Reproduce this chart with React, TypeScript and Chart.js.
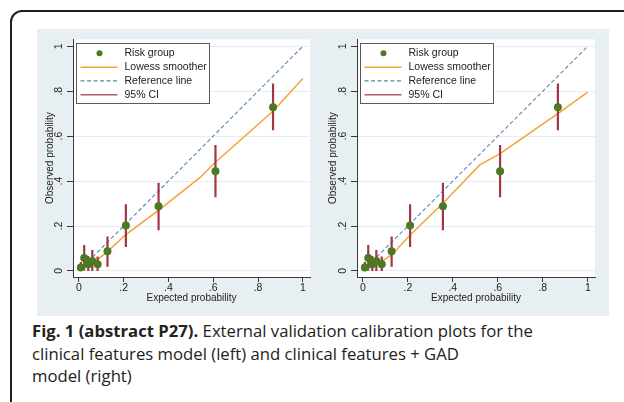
import React, { useEffect, useRef } from "react";
import { Chart, registerables } from "chart.js";

Chart.register(...registerables);

// ---- data ----
const groupExpected = [0.009, 0.024, 0.042, 0.06, 0.084, 0.128, 0.21, 0.356, 0.61, 0.867];
const groupObserved = [0.015, 0.058, 0.03, 0.044, 0.03, 0.088, 0.202, 0.288, 0.444, 0.729];
const ciLower = [0.0, 0.002, 0.0, 0.0, 0.0, 0.019, 0.107, 0.181, 0.328, 0.626];
const ciUpper = [0.04, 0.115, 0.067, 0.093, 0.064, 0.153, 0.297, 0.393, 0.56, 0.834];

const leftLowessX = [0, 0.02, 0.04, 0.06, 0.085, 0.13, 0.21, 0.36, 0.54, 0.61, 0.87, 1.0];
const leftLowessY = [0.015, 0.024, 0.032, 0.04, 0.052, 0.088, 0.162, 0.273, 0.415, 0.484, 0.714, 0.856];

const rightLowessX = [0, 0.03, 0.06, 0.09, 0.13, 0.21, 0.355, 0.52, 0.61, 0.87, 1.0];
const rightLowessY = [0.007, 0.016, 0.033, 0.046, 0.073, 0.16, 0.3, 0.472, 0.522, 0.702, 0.796];

const referenceX = [0, 1];
const referenceY = [0, 1];

const tickValues = [0, 0.2, 0.4, 0.6, 0.8, 1];
const tickLabels = ["0", ".2", ".4", ".6", ".8", "1"];

const legendLabels = ["Risk group", "Lowess smoother", "Reference line", "95% CI"];

const xTitle = "Expected probability";
const yTitle = "Observed probability";

// ---- styles ----
const COL_POINT = "#4a7a22";
const COL_CI = "#a23546";
const COL_LOWESS = "#f6a236";
const COL_REF = "#5c86b0";
const COL_AXIS = "#3a3a3a";
const COL_GRID = "#e7eef2";
const COL_PANEL = "#e8eff2";
const FONT = "'Liberation Sans', Arial, sans-serif";

const bgPlugin = {
  id: "plotbg",
  beforeDraw(chart: any) {
    const { ctx, chartArea: a } = chart;
    ctx.save();
    ctx.fillStyle = "#ffffff";
    ctx.fillRect(a.left, a.top, a.right - a.left, a.bottom - a.top);
    ctx.restore();
  },
};

const legendPlugin = {
  id: "stataLegend",
  afterDraw(chart: any) {
    const { ctx, chartArea: a } = chart;
    const bx = Math.round(a.left + 3) + 0.5;
    const by = Math.round(a.top + 4) + 0.5;
    const bw = 133;
    const bh = 60;
    ctx.save();
    ctx.fillStyle = "#ffffff";
    ctx.fillRect(bx, by, bw, bh);
    ctx.strokeStyle = "#5a5a5a";
    ctx.lineWidth = 1;
    ctx.strokeRect(bx, by, bw, bh);
    const rows = [9.7, 23.7, 37.3, 51.3];
    const x1 = bx + 4;
    const x2 = bx + 41;
    // risk group marker
    ctx.fillStyle = COL_POINT;
    ctx.beginPath();
    ctx.arc(bx + 23, by + rows[0], 3, 0, Math.PI * 2);
    ctx.fill();
    // lowess
    ctx.strokeStyle = COL_LOWESS;
    ctx.lineWidth = 1.5;
    ctx.beginPath();
    ctx.moveTo(x1, by + rows[1]);
    ctx.lineTo(x2, by + rows[1]);
    ctx.stroke();
    // reference
    ctx.strokeStyle = COL_REF;
    ctx.lineWidth = 1.3;
    ctx.setLineDash([4, 2.5]);
    ctx.beginPath();
    ctx.moveTo(x1, by + rows[2]);
    ctx.lineTo(x2, by + rows[2]);
    ctx.stroke();
    ctx.setLineDash([]);
    // CI
    ctx.strokeStyle = "#b35a66";
    ctx.lineWidth = 1.5;
    ctx.beginPath();
    ctx.moveTo(x1, by + rows[3]);
    ctx.lineTo(x2, by + rows[3]);
    ctx.stroke();
    // text
    ctx.fillStyle = "#222222";
    ctx.font = `10.5px ${FONT}`;
    ctx.textBaseline = "middle";
    ctx.textAlign = "left";
    legendLabels.forEach((t, i) => ctx.fillText(t, bx + 48, by + rows[i]));
    ctx.restore();
  },
};

type PlotProps = {
  lowX: number[];
  lowY: number[];
  yWidth: number;
  rightPad: number;
  yTitlePad: number;
  left: number;
};

function CalibrationPlot({ lowX, lowY, yWidth, rightPad, yTitlePad, left }: PlotProps) {
  const ref = useRef<HTMLCanvasElement>(null);

  useEffect(() => {
    const canvas = ref.current;
    if (!canvas) return;

    const points = groupExpected.map((x, i) => ({ x, y: groupObserved[i] }));
    const ciData: any[] = [];
    groupExpected.forEach((x, i) => {
      ciData.push({ x, y: ciLower[i] });
      ciData.push({ x, y: ciUpper[i] });
      ciData.push({ x, y: null });
    });
    const lowess = lowX.map((x, i) => ({ x, y: lowY[i] }));
    const reference = referenceX.map((x, i) => ({ x, y: referenceY[i] }));

    const setTicks = (scale: any) => {
      scale.ticks = tickValues.map((v) => ({ value: v }));
    };
    const tickCb = (_v: any, index: number) => tickLabels[index];

    const chart = new Chart(canvas, {
      type: "scatter",
      data: {
        datasets: [
          {
            label: "Risk group",
            data: points,
            backgroundColor: COL_POINT,
            borderWidth: 0,
            pointRadius: 4,
            showLine: false,
          },
          {
            label: "95% CI",
            data: ciData,
            borderColor: COL_CI,
            borderWidth: 2.2,
            pointRadius: 0,
            showLine: true,
            spanGaps: false,
          },
          {
            label: "Lowess smoother",
            data: lowess,
            borderColor: COL_LOWESS,
            borderWidth: 1.5,
            pointRadius: 0,
            showLine: true,
          },
          {
            label: "Reference line",
            data: reference,
            borderColor: COL_REF,
            borderWidth: 1.1,
            borderDash: [4, 2.5],
            pointRadius: 0,
            showLine: true,
          },
        ] as any,
      },
      options: {
        animation: false,
        responsive: false,
        maintainAspectRatio: false,
        events: [],
        layout: { padding: { left: 0, right: rightPad, top: 10, bottom: 0 } },
        plugins: { legend: { display: false }, tooltip: { enabled: false } },
        scales: {
          x: {
            type: "linear",
            min: -0.026,
            max: 1.032,
            afterBuildTicks: setTicks,
            afterFit: (s: any) => {
              s.height = 39;
            },
            ticks: {
              callback: tickCb,
              autoSkip: false,
              maxRotation: 0,
              padding: 0,
              color: "#222",
              font: { size: 10.5, family: FONT },
            },
            grid: {
              drawOnChartArea: false,
              drawTicks: true,
              tickLength: 5,
              tickColor: COL_AXIS,
            },
            border: { display: true, color: COL_AXIS, width: 1 },
            title: {
              display: true,
              text: xTitle,
              color: "#222",
              font: { size: 10, family: FONT },
              padding: { top: 0, bottom: 12 },
            },
          },
          y: {
            type: "linear",
            min: -0.027,
            max: 1.031,
            afterBuildTicks: setTicks,
            afterFit: (s: any) => {
              s.width = yWidth;
            },
            ticks: {
              callback: tickCb,
              autoSkip: false,
              minRotation: 90,
              maxRotation: 90,
              crossAlign: "center",
              padding: 4,
              color: "#222",
              font: { size: 10.5, family: FONT },
            },
            grid: {
              drawOnChartArea: true,
              color: COL_GRID,
              drawTicks: true,
              tickLength: 6,
              tickColor: COL_AXIS,
            },
            border: { display: true, color: COL_AXIS, width: 1 },
            title: {
              display: true,
              text: yTitle,
              color: "#222",
              font: { size: 10, family: FONT },
              padding: { top: yTitlePad, bottom: 0 },
            },
          },
        },
      } as any,
      plugins: [bgPlugin, legendPlugin],
    });

    return () => chart.destroy();
  }, []);

  return (
    <canvas
      ref={ref}
      width={286}
      height={287}
      style={{ position: "absolute", left, top: 29, width: 286, height: 287 }}
    />
  );
}

export default function App() {
  return (
    <div
      style={{
        position: "fixed",
        left: 0,
        top: 0,
        width: 624,
        height: 402,
        overflow: "hidden",
        background: "#ffffff",
      }}
    >
      <div
        style={{
          position: "absolute",
          left: 10,
          top: 10,
          width: 660,
          height: 420,
          border: "2px solid #1e1e1e",
          borderRadius: 12,
          boxSizing: "border-box",
        }}
      />
      <div
        style={{
          position: "absolute",
          left: 37,
          top: 29,
          width: 572,
          height: 287,
          background: COL_PANEL,
        }}
      />
      <CalibrationPlot lowX={leftLowessX} lowY={leftLowessY} yWidth={36} rightPad={13} yTitlePad={7} left={37} />
      <CalibrationPlot lowX={rightLowessX} lowY={rightLowessY} yWidth={34} rightPad={14} yTitlePad={4} left={323} />
      <div
        style={{
          position: "absolute",
          left: 32,
          top: 320,
          width: 590,
          fontFamily: "'Open Sans', Lato, sans-serif",
          fontSize: 16.7,
          lineHeight: "22.5px",
          color: "#222",
          whiteSpace: "nowrap",
        }}
      >
        <span style={{ fontWeight: 700 }}>Fig. 1 (abstract P27).</span> External validation calibration plots for the
        <br />
        clinical features model (left) and clinical features + GAD
        <br />
        model (right)
      </div>
    </div>
  );
}
